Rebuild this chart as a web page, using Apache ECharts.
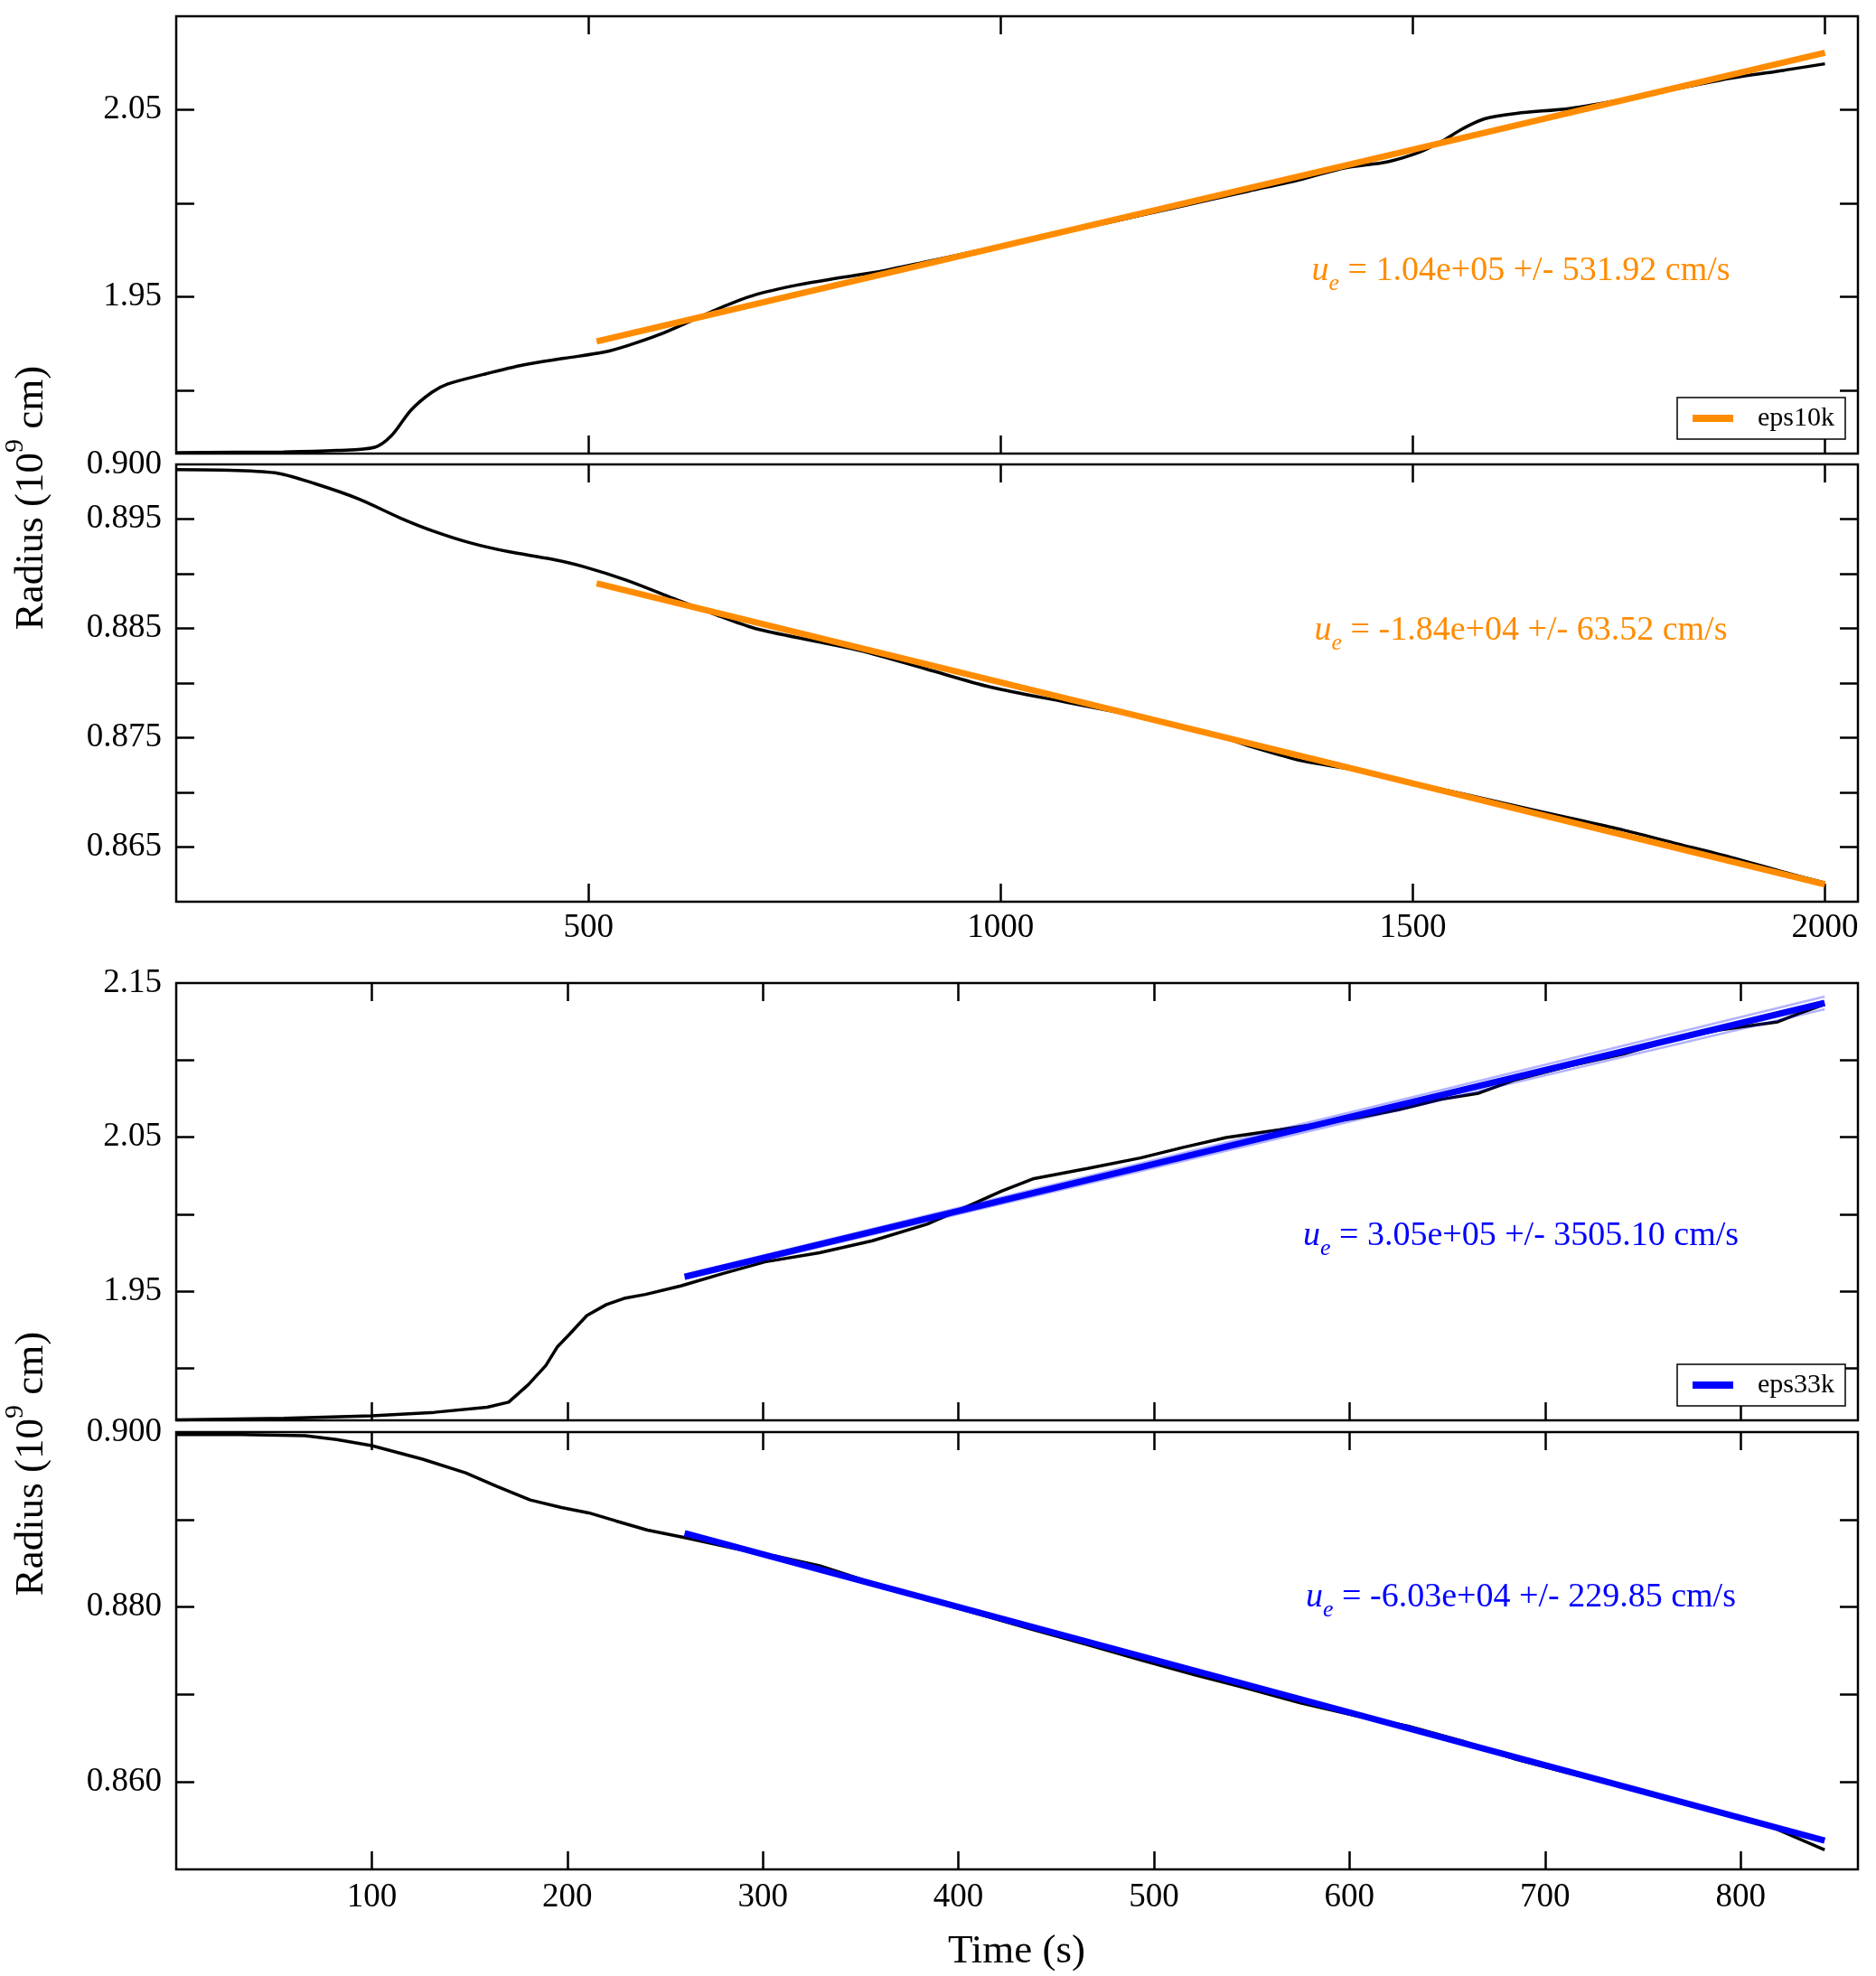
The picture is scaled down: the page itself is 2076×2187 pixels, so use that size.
<!DOCTYPE html>
<html>
<head>
<meta charset="utf-8">
<title>Radius vs time</title>
<script src="https://cdn.jsdelivr.net/npm/echarts@6/dist/echarts.min.js"></script>
<style>
  html, body { margin: 0; padding: 0; background: #fff; }
  #chart { width: 2076px; height: 2187px; }
</style>
</head>
<body>
<div id="chart"></div>
<script>
const FONT = '"Liberation Serif", "DejaVu Serif", serif';
const ORANGE = '#ff8c00';
const BLUE = '#0000ff';

// eps10k run: outer radius (top panel)
const t10kOuter = [0, 130, 195, 241, 261, 285, 310, 329, 373, 422, 471, 520, 549, 585, 624, 663, 702, 754, 806, 858, 910, 975, 1040, 1106, 1171, 1236, 1301, 1366, 1418, 1470, 1509, 1535, 1561, 1587, 1626, 1691, 1756, 1821, 1886, 1951, 2000];
const r10kOuter = [1.8668, 1.8672, 1.8680, 1.8697, 1.8758, 1.8896, 1.8990, 1.9034, 1.9086, 1.9137, 1.9172, 1.9206, 1.9242, 1.9297, 1.9371, 1.9447, 1.9511, 1.9564, 1.9603, 1.9640, 1.9688, 1.9749, 1.9809, 1.9873, 1.9937, 2.0002, 2.0066, 2.0130, 2.0190, 2.0223, 2.0275, 2.0331, 2.0400, 2.0452, 2.0481, 2.0508, 2.0556, 2.0613, 2.0669, 2.0712, 2.0746];

// eps10k run: inner radius
const t10kInner = [0, 65, 124, 169, 221, 273, 312, 358, 403, 455, 494, 546, 598, 650, 702, 780, 832, 910, 988, 1080, 1145, 1197, 1262, 1301, 1366, 1431, 1496, 1561, 1626, 1691, 1756, 1821, 1886, 1951, 2000];
const r10kInner = [0.89952, 0.89946, 0.89918, 0.89822, 0.89685, 0.89506, 0.89390, 0.89280, 0.89202, 0.89134, 0.89065, 0.88941, 0.88789, 0.88638, 0.88500, 0.88376, 0.88293, 0.88128, 0.87963, 0.87825, 0.87729, 0.87646, 0.87522, 0.87426, 0.87288, 0.87205, 0.87095, 0.86985, 0.86875, 0.86764, 0.86654, 0.86530, 0.86406, 0.86269, 0.86172];

// eps33k run: outer radius
const t33kOuter = [0, 55, 100, 132, 159, 170, 180, 189, 195, 201, 210, 220, 229, 240, 258, 279, 301, 329, 356, 384, 405, 422, 438, 466, 493, 515, 537, 564, 586, 603, 625, 647, 666, 685, 712, 740, 767, 789, 819, 830, 843];
const r33kOuter = [1.8666, 1.8676, 1.8692, 1.8715, 1.8748, 1.8781, 1.8894, 1.9018, 1.9141, 1.9220, 1.9343, 1.9414, 1.9454, 1.9480, 1.9535, 1.9613, 1.9691, 1.9750, 1.9828, 1.9936, 2.0053, 2.0150, 2.0229, 2.0297, 2.0365, 2.0434, 2.0498, 2.0547, 2.0590, 2.0623, 2.0678, 2.0746, 2.0785, 2.0873, 2.0961, 2.1039, 2.1137, 2.1195, 2.1248, 2.1303, 2.1361];

// eps33k run: inner radius
const t33kInner = [0, 33, 66, 82, 100, 126, 148, 164, 181, 197, 211, 225, 241, 260, 285, 307, 329, 356, 384, 411, 438, 466, 493, 521, 548, 575, 603, 630, 658, 685, 712, 740, 767, 795, 816, 843];
const r33kInner = [0.89972, 0.89972, 0.89959, 0.89914, 0.89845, 0.89690, 0.89534, 0.89379, 0.89224, 0.89138, 0.89076, 0.88983, 0.88879, 0.88793, 0.88672, 0.88579, 0.88472, 0.88276, 0.88086, 0.87914, 0.87741, 0.87569, 0.87397, 0.87224, 0.87069, 0.86903, 0.86759, 0.86638, 0.86466, 0.86259, 0.86103, 0.85948, 0.85793, 0.85621, 0.85483, 0.85224];

// linear fits (end points)
const fit10kTime = [510, 2000];
const fit10kOuter = [1.9262, 2.0805];
const fit10kInner = [0.88913, 0.86158];
const fit33kTime = [260, 843];
const fit33kOuter = [1.9594, 2.1371];
const fit33kOuterHi = [1.9608, 2.1412];
const fit33kOuterLo = [1.9580, 2.1330];
const fit33kInner = [0.88845, 0.8533];

// axis ticks and labels
const xTicks10k = [500, 1000, 1500, 2000];
const xTicks33k = [100, 200, 300, 400, 500, 600, 700, 800];
const yTicksOuter10k = [1.90, 1.95, 2.00, 2.05];
const yLabelsOuter10k = [1.95, 2.05];
const yTicksInner10k = [0.865, 0.870, 0.875, 0.880, 0.885, 0.890, 0.895];
const yLabelsInner10k = [0.865, 0.875, 0.885, 0.895, 0.900];
const yTicksOuter33k = [1.90, 1.95, 2.00, 2.05, 2.10];
const yLabelsOuter33k = [1.95, 2.05, 2.15];
const yTicksInner33k = [0.86, 0.87, 0.88, 0.89];
const yLabelsInner33k = [0.860, 0.880, 0.900];

const notes = [
  { text: ' = 1.04e+05 +/- 531.92 cm/s', color: ORANGE, y: 304 },
  { text: ' = -1.84e+04 +/- 63.52 cm/s', color: ORANGE, y: 702 },
  { text: ' = 3.05e+05 +/- 3505.10 cm/s', color: BLUE, y: 1372 },
  { text: ' = -6.03e+04 +/- 229.85 cm/s', color: BLUE, y: 1772 }
];

const gridTops = [18, 514, 1088, 1585];

const tickStyle = { color: '#000', width: 2.5 };
const labelStyle = { fontFamily: FONT, fontSize: 37, color: '#000' };

function xAxes(g, max, ticks, showLabels, margin) {
  const base = {
    type: 'value', gridIndex: g, min: 0, max,
    splitLine: { show: false },
    axisLine: { show: false, onZero: false },
    axisTick: { show: true, inside: true, length: 20, customValues: ticks, lineStyle: tickStyle }
  };
  return [
    {
      ...base, position: 'bottom',
      axisLabel: { show: showLabels, customValues: ticks, margin, formatter: (v) => String(v), ...labelStyle }
    },
    { ...base, position: 'top', axisLabel: { show: false } }
  ];
}

function yAxes(g, min, max, ticks, labels, digits) {
  const base = {
    type: 'value', gridIndex: g, min, max,
    splitLine: { show: false },
    axisLine: { show: false, onZero: false },
    axisTick: { show: true, inside: true, length: 20, customValues: ticks, lineStyle: tickStyle }
  };
  return [
    { ...base, position: 'left', axisLabel: { customValues: labels, margin: 16, formatter: (v) => v.toFixed(digits), ...labelStyle } },
    { ...base, position: 'right', axisLabel: { show: false } }
  ];
}

function line(g, name, times, values, color, width, z, smooth) {
  return {
    type: 'line', name, xAxisIndex: 2 * g, yAxisIndex: 2 * g,
    data: times.map((t, i) => [t, values[i]]),
    symbol: 'none', showSymbol: false, smooth: smooth || false, z,
    lineStyle: { color, width }, itemStyle: { color },
    emphasis: { disabled: true }, silent: true
  };
}

const legendBase = {
  icon: 'rect', itemWidth: 45, itemHeight: 8, right: 34,
  backgroundColor: '#fff', borderColor: '#000', borderWidth: 1.5, borderRadius: 0,
  padding: [8, 12, 8, 17], selectedMode: false,
  textStyle: { fontFamily: FONT, fontSize: 30, color: '#000', padding: [0, 0, 0, 22] }
};

const noteRich = (color) => ({
  u: { fontFamily: FONT, fontStyle: 'italic', fontSize: 38, lineHeight: 46, verticalAlign: 'top', fill: color },
  sub: { fontFamily: FONT, fontStyle: 'italic', fontSize: 26, lineHeight: 26, verticalAlign: 'bottom', fill: color },
  t: { fontFamily: FONT, fontSize: 38, lineHeight: 46, verticalAlign: 'top', fill: color }
});

const axisTitleRich = {
  n: { fontFamily: FONT, fontSize: 45, lineHeight: 56, verticalAlign: 'bottom', fill: '#000' },
  sup: { fontFamily: FONT, fontSize: 30, lineHeight: 30, verticalAlign: 'top', fill: '#000' }
};

const option = {
  animation: false,
  backgroundColor: '#fff',
  grid: gridTops.map((top) => ({
    left: 195, top, width: 1861, height: 484,
    show: true, borderColor: '#000', borderWidth: 2.5, backgroundColor: 'transparent',
    containLabel: false, outerBoundsMode: 'none'
  })),
  xAxis: [
    ...xAxes(0, 2040, xTicks10k, false, 12),
    ...xAxes(1, 2040, xTicks10k, true, 11),
    ...xAxes(2, 860, xTicks33k, false, 12),
    ...xAxes(3, 860, xTicks33k, true, 13)
  ],
  yAxis: [
    ...yAxes(0, 1.8663, 2.10, yTicksOuter10k, yLabelsOuter10k, 2),
    ...yAxes(1, 0.86, 0.90, yTicksInner10k, yLabelsInner10k, 3),
    ...yAxes(2, 1.8663, 2.15, yTicksOuter33k, yLabelsOuter33k, 2),
    ...yAxes(3, 0.85, 0.90, yTicksInner33k, yLabelsInner33k, 3)
  ],
  legend: [
    { ...legendBase, data: ['eps10k'], top: 440 },
    { ...legendBase, data: ['eps33k'], top: 1510 }
  ],
  series: [
    line(0, 'eps10k outer', t10kOuter, r10kOuter, '#000', 3.5, 2, 0.3),
    line(0, 'eps10k', fit10kTime, fit10kOuter, ORANGE, 7, 3),
    line(1, 'eps10k inner', t10kInner, r10kInner, '#000', 3.5, 2, 0.3),
    line(1, 'eps10k inner fit', fit10kTime, fit10kInner, ORANGE, 7, 3),
    line(2, 'eps33k outer', t33kOuter, r33kOuter, '#000', 3.5, 2),
    line(2, 'eps33k', fit33kTime, fit33kOuter, BLUE, 7, 3),
    line(2, 'eps33k upper', fit33kTime, fit33kOuterHi, 'rgba(0,0,255,0.3)', 2.5, 4),
    line(2, 'eps33k lower', fit33kTime, fit33kOuterLo, 'rgba(0,0,255,0.3)', 2.5, 4),
    line(3, 'eps33k inner', t33kInner, r33kInner, '#000', 3.5, 2),
    line(3, 'eps33k inner fit', fit33kTime, fit33kInner, BLUE, 7, 3)
  ],
  graphic: [
    ...notes.map((n) => ({
      type: 'text', x: 1683, y: n.y, z: 100,
      style: {
        text: '{u|u}{sub|e}{t|' + n.text + '}',
        rich: noteRich(n.color),
        align: 'center', verticalAlign: 'middle',
        textAlign: 'center', textVerticalAlign: 'middle'
      }
    })),
    ...[551, 1620].map((y) => ({
      type: 'text', x: 30, y, rotation: Math.PI / 2, z: 100,
      style: {
        text: '{n|Radius (10}{sup|9}{n| cm)}',
        rich: axisTitleRich,
        align: 'center', verticalAlign: 'middle',
        textAlign: 'center', textVerticalAlign: 'middle'
      }
    })),
    {
      type: 'text', x: 1125, y: 2160, z: 100,
      style: {
        text: 'Time (s)', fontFamily: FONT, fontSize: 45, fill: '#000',
        align: 'center', verticalAlign: 'middle',
        textAlign: 'center', textVerticalAlign: 'middle'
      }
    }
  ]
};

const chart = echarts.init(document.getElementById('chart'));
chart.setOption(option);
</script>
</body>
</html>
